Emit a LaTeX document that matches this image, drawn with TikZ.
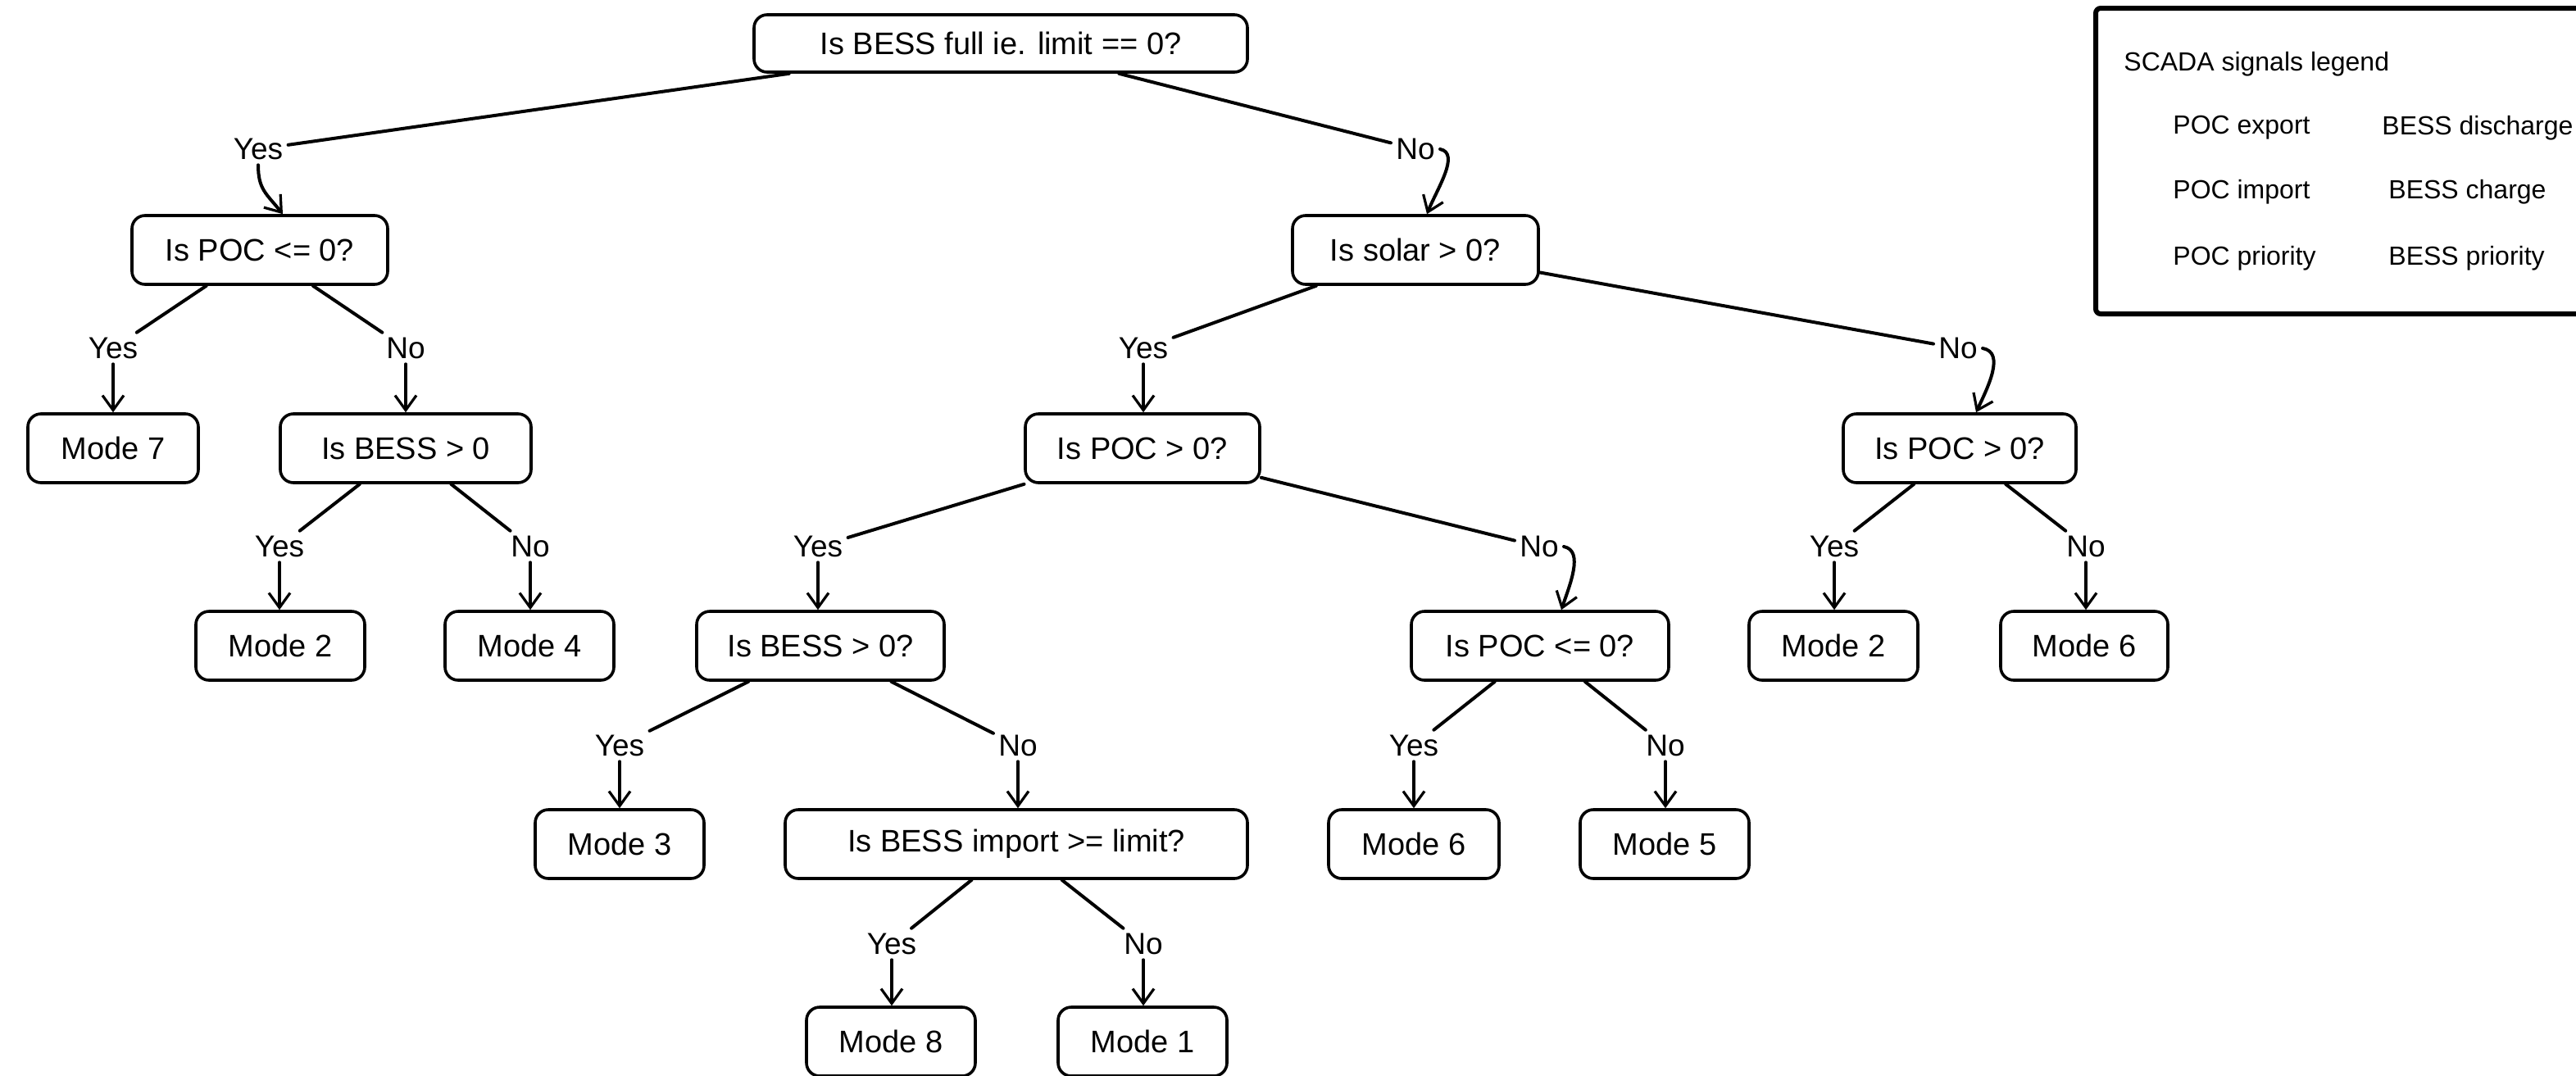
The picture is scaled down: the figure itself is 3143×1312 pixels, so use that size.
\documentclass[tikz,border=0pt]{standalone}
\usepackage{fontspec}
\setmainfont{Liberation Sans}
\usetikzlibrary{arrows.meta,calc}
\begin{document}
\begin{tikzpicture}[x=0.5pt,y=-0.5pt,
  box/.style={draw, line width=1.8pt, rounded corners=8pt, minimum height=42pt, inner sep=0pt, fill=white, font=\fontsize{19}{22}\selectfont},
  topbox/.style={box, minimum height=35pt},
  lab/.style={inner sep=3pt, font=\fontsize{18.5}{21}\selectfont},
  legtext/.style={anchor=west, inner sep=0pt, font=\fontsize{16}{19}\selectfont},
  link/.style={line width=2pt, line cap=round},
  arr/.style={link, -{Straight Barb[length=9pt,width=13pt,line width=1.6pt]}}
]
\useasboundingbox (0,0) rectangle (3143,1312);
% nodes
\node[topbox, minimum width=301pt] (top) at (1221,53) {Is BESS full ie. limit == 0?};
\node[box, minimum width=156pt] (poc1) at (317,305) {Is POC <= 0?};
\node[box, minimum width=150pt] (solar) at (1727,305) {Is solar > 0?};
\node[box, minimum width=104pt] (m7) at (138,547) {Mode 7};
\node[box, minimum width=153pt] (bess1) at (495,547) {Is BESS > 0};
\node[box, minimum width=143pt] (pocA) at (1394,547) {Is POC > 0?};
\node[box, minimum width=142pt] (pocB) at (2391,547) {Is POC > 0?};
\node[box, minimum width=103pt] (m2a) at (342,788) {Mode 2};
\node[box, minimum width=103pt] (m4) at (646,788) {Mode 4};
\node[box, minimum width=151pt] (bess2) at (1001,788) {Is BESS > 0?};
\node[box, minimum width=157pt] (poc2) at (1879,788) {Is POC <= 0?};
\node[box, minimum width=103pt] (m2b) at (2237,788) {Mode 2};
\node[box, minimum width=102pt] (m6b) at (2543,788) {Mode 6};
\node[box, minimum width=103pt] (m3) at (756,1030) {Mode 3};
\node[box, minimum width=282pt] (imp) at (1240,1030) {Is BESS import >= limit?};
\node[box, minimum width=104pt] (m6a) at (1725,1030) {Mode 6};
\node[box, minimum width=103pt] (m5) at (2031,1030) {Mode 5};
\node[box, minimum width=103pt] (m8) at (1087,1271) {Mode 8};
\node[box, minimum width=103pt] (m1) at (1394,1271) {Mode 1};
% labels
\node[lab] (y0) at (315,182) {Yes};
\node[lab] (n0) at (1727,182) {No};
\node[lab] (y1) at (138,425) {Yes};
\node[lab] (n1) at (495,425) {No};
\node[lab] (y2) at (1395,425) {Yes};
\node[lab] (n2) at (2389,425) {No};
\node[lab] (y3) at (341,667) {Yes};
\node[lab] (n3) at (647,667) {No};
\node[lab] (y4) at (998,667) {Yes};
\node[lab] (n4) at (1878,667) {No};
\node[lab] (y5) at (2238,667) {Yes};
\node[lab] (n5) at (2545,667) {No};
\node[lab] (y6) at (756,910) {Yes};
\node[lab] (n6) at (1242,910) {No};
\node[lab] (y7) at (1725,910) {Yes};
\node[lab] (n7) at (2032,910) {No};
\node[lab] (y8) at (1088,1152) {Yes};
\node[lab] (n8) at (1395,1152) {No};
% lines parent -> label
\foreach \p/\l in {top/y0, top/n0, poc1/y1, poc1/n1, solar/y2, solar/n2, bess1/y3, bess1/n3,
  pocA/y4, pocA/n4, pocB/y5, pocB/n5, bess2/y6, bess2/n6, poc2/y7, poc2/n7, imp/y8, imp/n8}
  \draw[link] (\p) -- (\l);
% straight arrows label -> child
\foreach \l/\c in {y1/m7, n1/bess1, y2/pocA, y3/m2a, n3/m4, y4/bess2, y5/m2b, n5/m6b,
  y6/m3, n6/imp, y7/m6a, n7/m5, y8/m8, n8/m1}
  \draw[arr] (\l.south) -- (\l.south |- \c.north);
% curved arrows
\draw[arr] (y0.south) .. controls +(0,30) and +(-20,-25) .. ($(poc1.north)+(28,0)$);
\draw[arr] (n0.east) .. controls +(25,5) and +(12,-30) .. ($(solar.north)+(14,0)$);
\draw[arr] (n2.east) .. controls +(28,5) and +(14,-30) .. ($(pocB.north)+(20,0)$);
\draw[arr] (n4.east) .. controls +(25,5) and +(10,-30) .. ($(poc2.north)+(26,0)$);
% legend
\draw[line width=3pt, rounded corners=3pt] (2557,10) rectangle (3175,383);
\node[legtext] (legtitle) at (2591,78) {SCADA signals legend};
\node[legtext] (lg1) at (2651,156) {POC export};
\node[legtext] (lg2) at (2906,156) {BESS discharge};
\node[legtext] (lg3) at (2651,234) {POC import};
\node[legtext] (lg4) at (2914,234) {BESS charge};
\node[legtext] (lg5) at (2651,315) {POC priority};
\node[legtext] (lg6) at (2914,315) {BESS priority};
\end{tikzpicture}
\end{document}
